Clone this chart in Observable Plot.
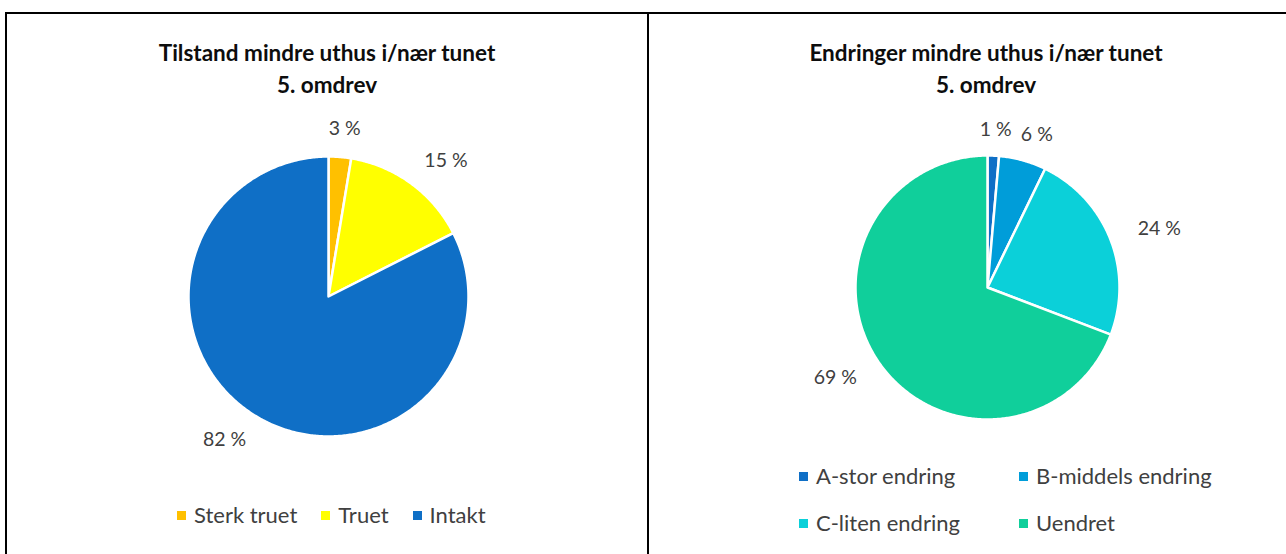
<!DOCTYPE html>
<html><head><meta charset="utf-8">
<script src="https://cdn.jsdelivr.net/npm/d3@7"></script>
<script src="https://cdn.jsdelivr.net/npm/@observablehq/plot@0.6"></script>
<style>
body{margin:0;background:#fff;width:1286px;height:554px;overflow:hidden;font-family:Lato,"Open Sans",sans-serif;position:relative}
#frame{position:absolute;left:5px;top:12px;width:1400px;height:700px;border:2px solid #000;box-sizing:border-box}
#divider{position:absolute;left:647px;top:12px;width:2px;height:600px;background:#000}
.title{position:absolute;text-align:center;font-weight:bold;font-size:22.5px;line-height:32px;color:#0d0d0d}
.chart{position:absolute;top:14px}
.legend{position:absolute;font-size:22px;color:#404040;line-height:24px}
.item{white-space:nowrap;display:flex;align-items:center}
.sw{display:inline-block;width:9px;height:9px;margin-right:8px}
#leg1{left:177px;top:503px;display:flex;gap:24px}
#leg2{left:799px;top:464px;display:grid;grid-template-columns:220px auto;row-gap:23px}
</style></head>
<body>
<div id="frame"></div>
<div id="divider"></div>
<div id="chart1" class="chart" style="left:7px"></div>
<div id="chart2" class="chart" style="left:649px"></div>
<div class="title" style="left:7px;width:640px;top:37px">Tilstand mindre uthus i/nær tunet<br>5. omdrev</div>
<div class="title" style="left:649px;width:674px;top:37px">Endringer mindre uthus i/nær tunet<br>5. omdrev</div>
<div id="leg1" class="legend"></div>
<div id="leg2" class="legend"></div>
<script>
// Data
const tilstandKategorier = ["Sterk truet", "Truet", "Intakt"];
const tilstandVerdier = [2.6, 14.9, 82.4];
const endringKategorier = ["A-stor endring", "B-middels endring", "C-liten endring", "Uendret"];
const endringVerdier = [1.4, 5.8, 23.6, 69.2];
// Palettes
const tilstandFarger = ["#FFC000", "#FFFF00", "#0F6FC6"];
const endringFarger = ["#0F6FC6", "#009DD9", "#0BD0D9", "#10CF9B"];

function pie({cats, vals, colors, cx, cy, r, width, height, kx, ky}) {
  const arcs = d3.pie().sort(null).value(d => d)(vals);
  const total = d3.sum(vals);
  const poly = [];
  arcs.forEach((a, i) => {
    poly.push({k: cats[i], x: 0, y: 0});
    const n = Math.max(2, Math.ceil((a.endAngle - a.startAngle) / 0.01));
    for (let j = 0; j <= n; j++) {
      const t = a.startAngle + (a.endAngle - a.startAngle) * j / n;
      poly.push({k: cats[i], x: Math.sin(t), y: Math.cos(t)});
    }
  });
  const labels = arcs.map((a, i) => {
    const m = (a.startAngle + a.endAngle) / 2;
    return {x: Math.sin(m) * kx, y: Math.cos(m) * ky, t: Math.round(vals[i] / total * 100) + " %"};
  });
  return Plot.plot({
    width, height, margin: 0,
    style: {fontFamily: "Lato, 'Open Sans', sans-serif", background: "transparent", overflow: "visible"},
    x: {domain: [-1, 1], range: [cx - r, cx + r], axis: null},
    y: {domain: [-1, 1], range: [cy + r, cy - r], axis: null},
    color: {domain: cats, range: colors},
    marks: [
      Plot.line(poly, {x: "x", y: "y", z: "k", fill: "k", stroke: "white", strokeWidth: 2.5, curve: "linear-closed"}),
      Plot.text(labels, {x: "x", y: "y", text: "t", fontSize: 19.5, fill: "#404040"})
    ]
  });
}

document.getElementById("chart1").append(pie({
  cats: tilstandKategorier, vals: tilstandVerdier, colors: tilstandFarger,
  cx: 321, cy: 282, r: 140, width: 640, height: 540, kx: 1.42, ky: 1.2
}));
document.getElementById("chart2").append(pie({
  cats: endringKategorier, vals: endringVerdier, colors: endringFarger,
  cx: 338, cy: 273, r: 132, width: 637, height: 540, kx: 1.4, ky: 1.2
}));

function legend(id, cats, colors) {
  const el = document.getElementById(id);
  cats.forEach((c, i) => {
    const it = document.createElement("div");
    it.className = "item";
    const sw = document.createElement("span");
    sw.className = "sw";
    sw.style.background = colors[i];
    it.append(sw, document.createTextNode(c));
    el.append(it);
  });
}
legend("leg1", tilstandKategorier, tilstandFarger);
legend("leg2", endringKategorier, endringFarger);
</script>
</body></html>
